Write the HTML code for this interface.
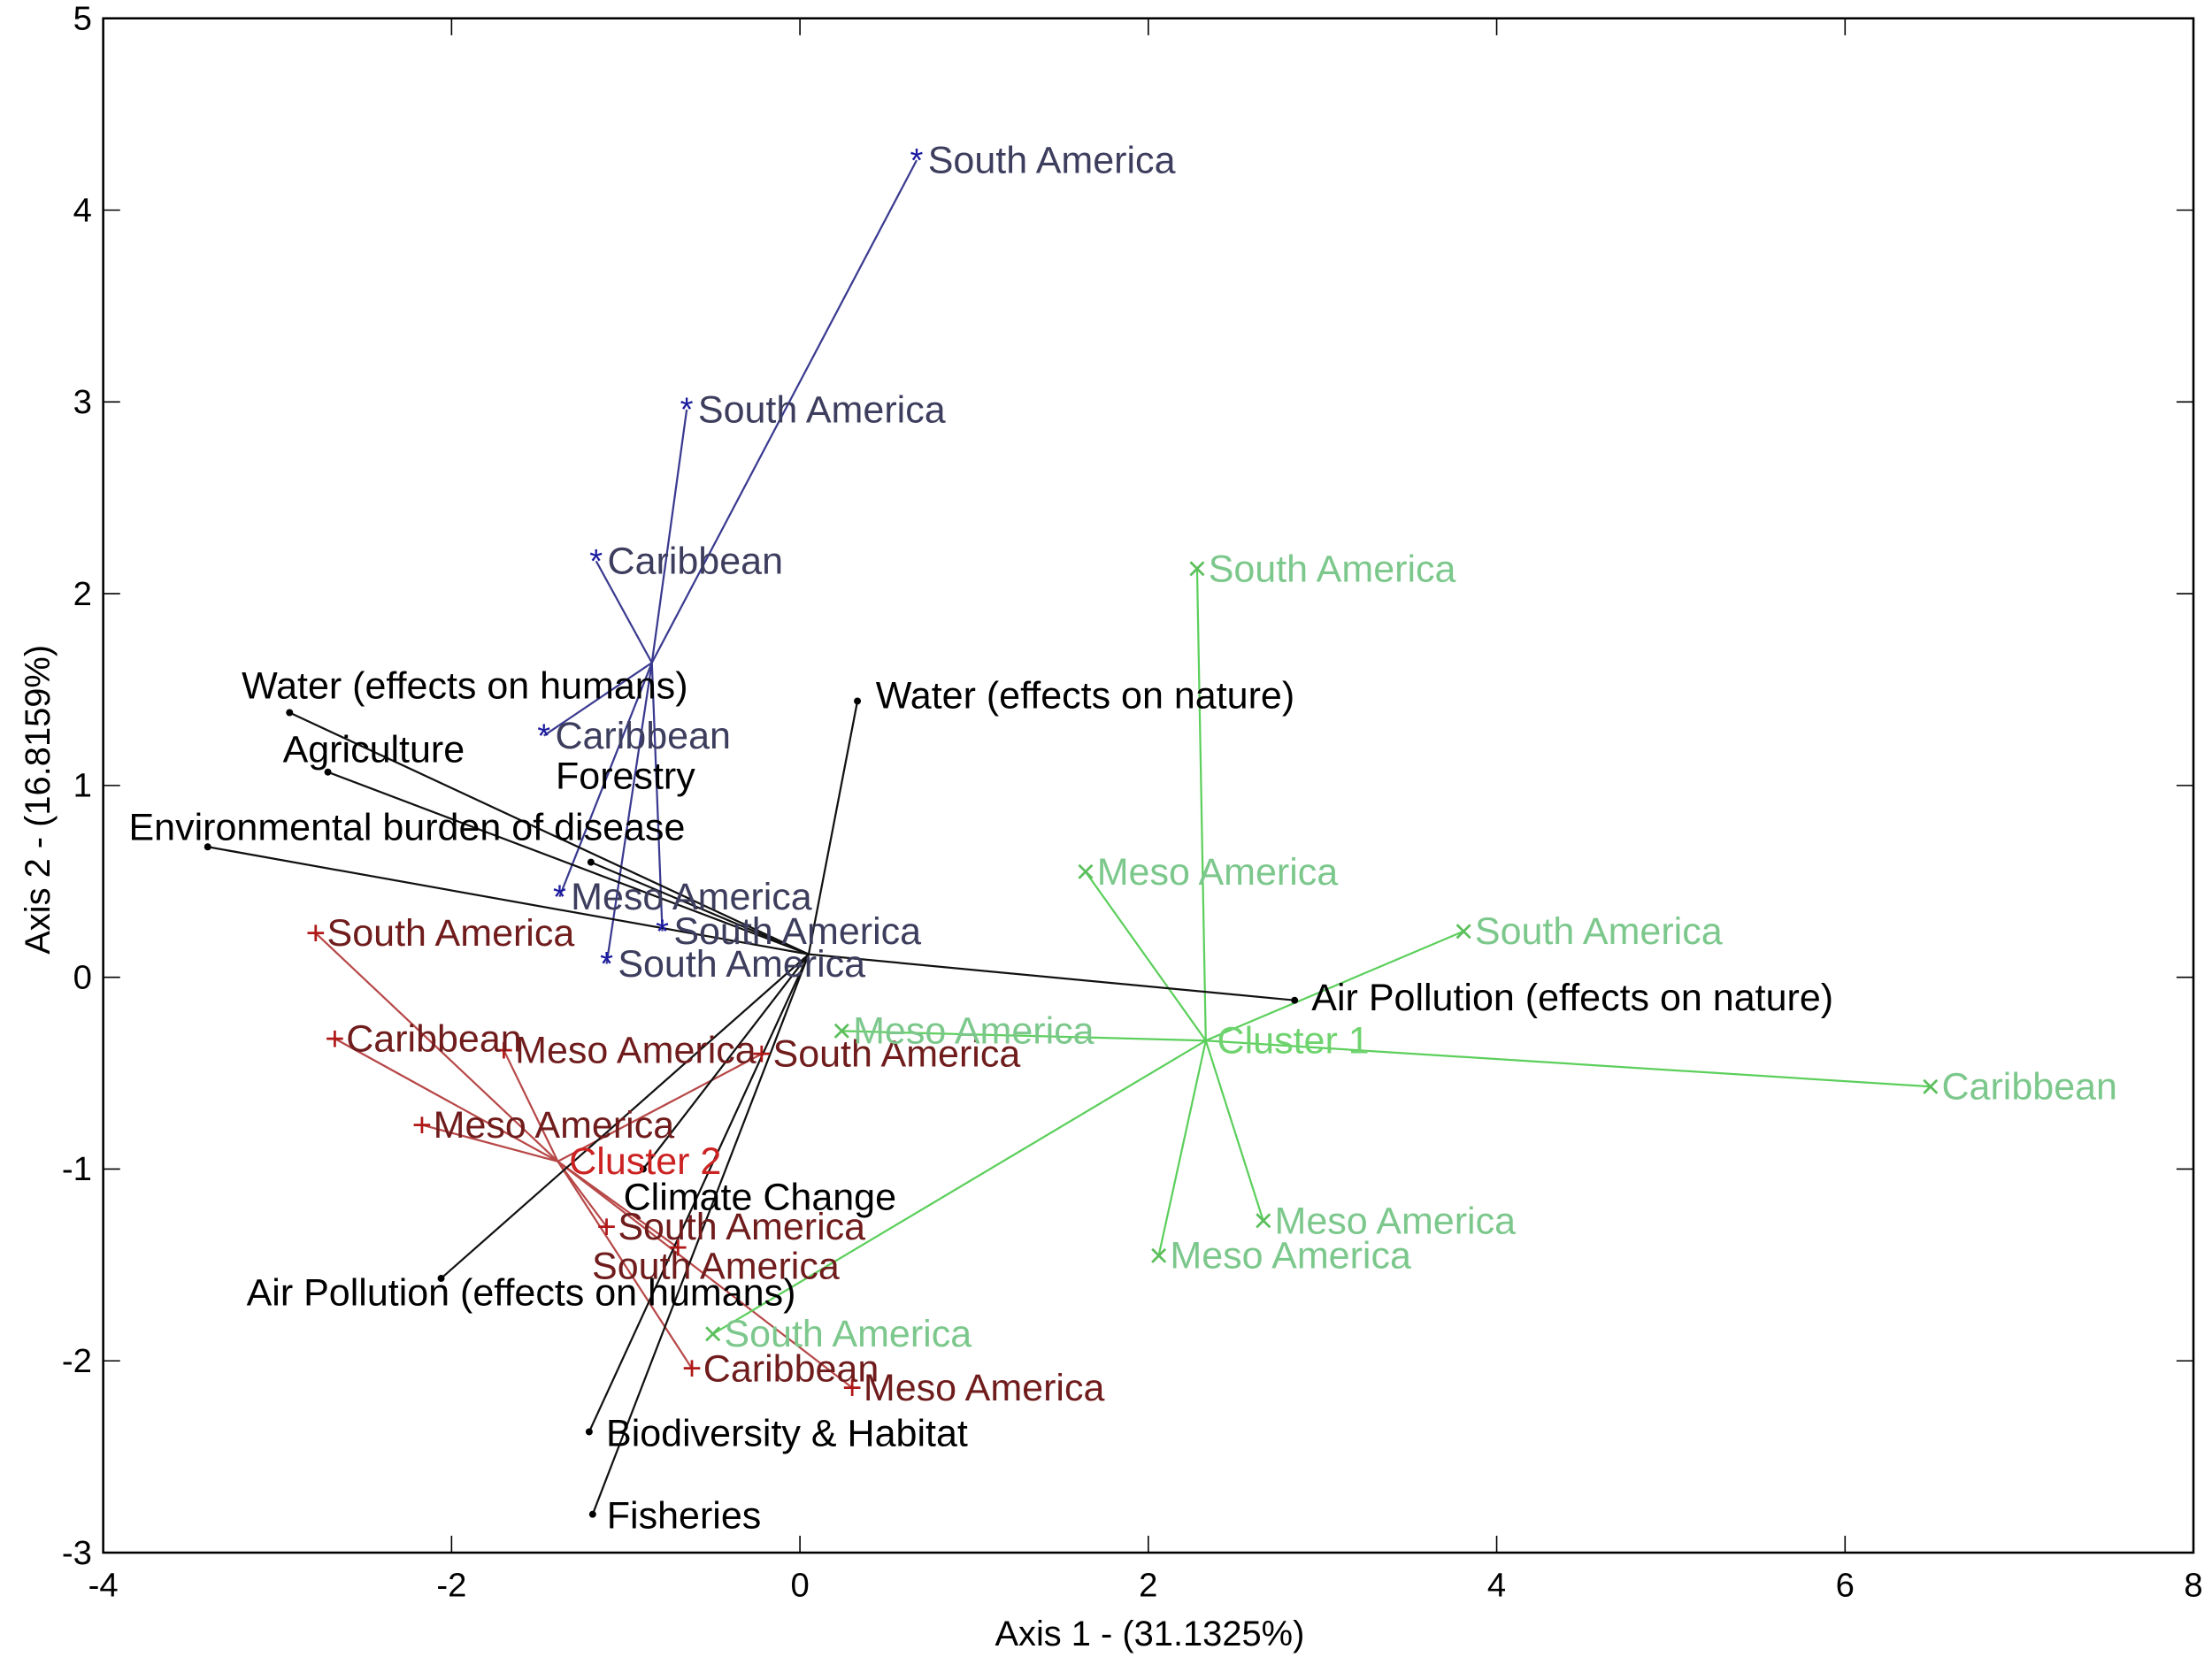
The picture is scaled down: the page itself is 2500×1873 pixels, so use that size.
<!DOCTYPE html>
<html><head><meta charset="utf-8"><style>
html,body{margin:0;padding:0;background:#fff}
svg{display:block}
text{font-family:"Liberation Sans",sans-serif}
</style></head><body>
<svg id="chart" width="2500" height="1873" viewBox="0 0 1568 1175" xmlns="http://www.w3.org/2000/svg">
<rect x="0" y="0" width="1568" height="1175" fill="#fff"/>
<g id="frame"></g><g id="lines"></g><g id="marks"></g><g id="labels"></g>
</svg>
<script>
const xTicks=[-4,-2,0,2,4,6,8];
const yTicks=[-3,-2,-1,0,1,2,3,4,5];
const blueCenter=[-0.85,1.64];
const blueX=[0.67,-0.65,-1.17,-1.47,-1.38,-0.79,-1.11];
const blueY=[4.26,2.96,2.17,1.26,0.42,0.24,0.07];
const blueNames=["South America","South America","Caribbean","Caribbean","Meso America","South America","South America"];
const redCenter=[-1.39,-0.96];
const redX=[-2.78,-2.67,-1.70,-0.22,-2.17,-1.11,-0.70,-0.62,0.30];
const redY=[0.23,-0.32,-0.38,-0.40,-0.77,-1.30,-1.41,-2.04,-2.14];
const redNames=["South America","Caribbean","Meso America","South America","Meso America","South America","South America","Caribbean","Meso America"];
const greenCenter=[2.33,-0.33];
const greenX=[2.28,1.64,3.81,0.24,6.49,2.66,2.06,-0.50];
const greenY=[2.13,0.55,0.24,-0.28,-0.57,-1.27,-1.45,-1.86];
const greenNames=["South America","Meso America","South America","Meso America","Caribbean","Meso America","Meso America","South America"];
const varX=[-2.93,-2.71,-3.40,-1.20,0.33,2.84,-0.90,-2.06,-1.21,-1.19];
const varY=[1.38,1.07,0.68,0.60,1.44,-0.12,-1.00,-1.57,-2.37,-2.80];
const varNames=["Water (effects on humans)","Agriculture","Environmental burden of disease","Forestry","Water (effects on nature)","Air Pollution (effects on nature)","Climate Change","Air Pollution (effects on humans)","Biodiversity & Habitat","Fisheries"];
const varLabelDx=[-34,-32,-56,-25,13,12,-14,-138,12,10];
const varLabelDy=[-10,-7,-5,-52,5,7,29,19,10,10];
const redLabelDx=[8,8,8,8,8,8,-61,8,8];
const redLabelDy=[9,9,9,9,9,9,22,9,9];
const origin=[0.05,0.12];

const L=73,R=1555,T=13,B=1101;
const sx=v=>L+(v+4)*(R-L)/12;
const sy=v=>B-(v+3)*(B-T)/8;
const NS="http://www.w3.org/2000/svg";
function mk(parent,tag,attrs){const e=document.createElementNS(NS,tag);for(const k in attrs)e.setAttribute(k,attrs[k]);document.getElementById(parent).appendChild(e);return e;}

let e=mk('frame','rect',{x:L,y:T,width:R-L,height:B-T,fill:'none',stroke:'#000','stroke-width':1.6});


xTicks.forEach(t=>{
  let a=mk('frame','line',{x1:sx(t),x2:sx(t),y1:B,y2:B-12,stroke:'#000','stroke-width':1});
  
  
  let b=mk('frame','line',{x1:sx(t),x2:sx(t),y1:T,y2:T+12,stroke:'#000','stroke-width':1});
  
  
  let s=mk('frame','text',{x:sx(t),y:1132,'font-size':24,'text-anchor':'middle',fill:'#000'});s.textContent=t;
  
  
});
yTicks.forEach(t=>{
  let a=mk('frame','line',{x1:L,x2:L+12,y1:sy(t),y2:sy(t),stroke:'#000','stroke-width':1});
  
  
  let b=mk('frame','line',{x1:R,x2:R-12,y1:sy(t),y2:sy(t),stroke:'#000','stroke-width':1});
  
  
  let s=mk('frame','text',{x:65,y:sy(t)+8,'font-size':24,'text-anchor':'end',fill:'#000'});s.textContent=t;
  
  
});
let xt=mk('frame','text',{x:815,y:1167,'font-size':25,'text-anchor':'middle',fill:'#000'});xt.textContent="Axis 1 - (31.1325%)";


let yt=mk('frame','text',{x:0,y:0,'font-size':25,'text-anchor':'middle',fill:'#000',transform:'translate(35,567) rotate(-90)'});yt.textContent="Axis 2 - (16.8159%)";



function cluster(cx,xs,ys,names,lineC,markC,labC,marker,nm,dxs,dys){
  xs.forEach((x,i)=>{
    let l=mk('lines','line',{x1:sx(cx[0]),y1:sy(cx[1]),x2:sx(x),y2:sy(ys[i]),stroke:lineC,'stroke-width':1.4});
    
    
    const px=sx(x),py=sy(ys[i]);
    let m=mk('marks','text',{x:px,y:py+8,'font-size':24,'text-anchor':'middle',fill:markC});m.textContent=marker;
    
    
    const dx=dxs?dxs[i]:8, dy=dys?dys[i]:9;
    let t=mk('labels','text',{x:px+dx,y:py+dy,'font-size':27,fill:labC});t.textContent=names[i];
    
    
  });
}
cluster(blueCenter,blueX,blueY,blueNames,'#3a3a90','#1a1aa0','#3d3d5e','*','blue-cluster');
cluster(redCenter,redX,redY,redNames,'#b84848','#b01818','#701c1c','+','red-cluster',redLabelDx,redLabelDy);
cluster(greenCenter,greenX,greenY,greenNames,'#5ccf5c','#5cbf5c','#7cc88c','×','green-cluster');
[['Cluster 1',greenCenter,'#6fd36f','cluster-1-label'],['Cluster 2',redCenter,'#cc2222','cluster-2-label']].forEach(c=>{
  let t=mk('labels','text',{x:sx(c[1][0])+8,y:sy(c[1][1])+9,'font-size':27,fill:c[2]});t.textContent=c[0];
  
  
});
varX.forEach((x,i)=>{
  const px=sx(x),py=sy(varY[i]);
  let l=mk('lines','line',{x1:sx(origin[0]),y1:sy(origin[1]),x2:px,y2:py,stroke:'#111','stroke-width':1.4});
  
  
  let c=mk('marks','circle',{cx:px,cy:py,r:2.5,fill:'#000'});
  
  
  let t=mk('labels','text',{x:px+varLabelDx[i],y:py+varLabelDy[i],'font-size':27,fill:'#000'});t.textContent=varNames[i];
  
  
});
</script>
</body></html>
